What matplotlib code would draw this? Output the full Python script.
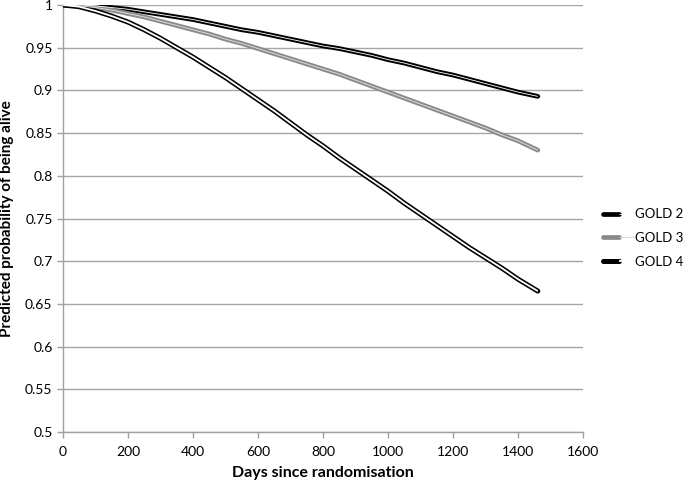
import numpy as np
import matplotlib
matplotlib.use("Agg")
from matplotlib import pyplot as plt
from matplotlib.legend_handler import HandlerTuple

# values (days since randomisation -> predicted survival)
days = [0, 50, 100, 150, 200, 250, 300, 350, 400, 450, 500, 550, 600, 650, 700,
        750, 800, 850, 900, 950, 1000, 1050, 1100, 1150, 1200, 1250, 1300, 1350, 1400, 1461]
gold2 = [1.000, 1.000, 0.999, 0.997, 0.995, 0.992, 0.989, 0.986, 0.983, 0.979,
         0.975, 0.971, 0.968, 0.964, 0.960, 0.956, 0.952, 0.949, 0.945, 0.941,
         0.936, 0.932, 0.927, 0.922, 0.918, 0.913, 0.908, 0.903, 0.898, 0.893]
gold3 = [1.000, 0.999, 0.997, 0.994, 0.990, 0.986, 0.981, 0.976, 0.971, 0.966,
         0.960, 0.955, 0.949, 0.943, 0.937, 0.931, 0.925, 0.919, 0.912, 0.905,
         0.898, 0.891, 0.884, 0.877, 0.870, 0.863, 0.856, 0.848, 0.841, 0.830]
gold4 = [1.000, 0.998, 0.993, 0.987, 0.980, 0.971, 0.961, 0.950, 0.939, 0.927,
         0.915, 0.902, 0.889, 0.876, 0.862, 0.848, 0.835, 0.821, 0.808, 0.795,
         0.782, 0.768, 0.755, 0.742, 0.729, 0.716, 0.704, 0.692, 0.679, 0.665]
labels = ["GOLD 2", "GOLD 3", "GOLD 4"]

x_ticks = [0, 200, 400, 600, 800, 1000, 1200, 1400, 1600]
y_ticks = [0.5, 0.55, 0.6, 0.65, 0.7, 0.75, 0.8, 0.85, 0.9, 0.95, 1]
y_tick_labels = ["0.5", "0.55", "0.6", "0.65", "0.7", "0.75", "0.8", "0.85", "0.9", "0.95", "1"]

plt.rcParams['font.family'] = ['Lato', 'DejaVu Sans']

fig = plt.figure(figsize=(6.85, 4.82), dpi=100)
ax = fig.add_axes([63 / 685, 1 - 432 / 482, 520 / 685, 427 / 482])

# (outer colour, outer width, inner colour, inner width)
styles = [
    ("#000000", 3.4, "#ffffff", 0.6),
    ("#8a8a8a", 3.4, "#dadada", 0.7),
    ("#000000", 3.6, "#ffffff", 1.3),
]

handles = []
for vals, (oc, ow, ic, iw) in zip([gold2, gold3, gold4], styles):
    outer, = ax.plot(days, vals, color=oc, lw=ow, solid_capstyle='round',
                     solid_joinstyle='round', zorder=3)
    inner, = ax.plot(days, vals, color=ic, lw=iw, solid_capstyle='butt',
                     solid_joinstyle='round', zorder=4)
    handles.append((outer, inner))

ax.set_xlim(0, 1600)
ax.set_ylim(0.5, 1.0)
ax.set_xticks(x_ticks)
ax.set_yticks(y_ticks)
ax.set_yticklabels(y_tick_labels)
ax.tick_params(axis='both', labelsize=10, colors='#a0a0a0', labelcolor='black', length=4, width=1)
ax.tick_params(axis='x', pad=6)

ax.grid(axis='y', color='#a6a6a6', lw=1)
ax.set_axisbelow(True)
for s in ['top', 'right']:
    ax.spines[s].set_visible(False)
for s in ['left', 'bottom']:
    ax.spines[s].set_color('#a0a0a0')
    ax.spines[s].set_linewidth(1)

ax.set_xlabel("Days since randomisation", fontsize=11.5, fontweight='bold', labelpad=6)
ax.set_ylabel("Predicted probability of being alive", fontsize=11, fontweight='bold', labelpad=8)

fig.legend(handles, labels, handler_map={tuple: HandlerTuple(ndivide=None)},
           loc='center left', bbox_to_anchor=(603 / 685, 1 - 238 / 482),
           frameon=False, fontsize=9.5, handlelength=2.4, handletextpad=0.0,
           labelspacing=0.9, borderpad=0, borderaxespad=0)

fig.savefig("out.png", dpi=100)
